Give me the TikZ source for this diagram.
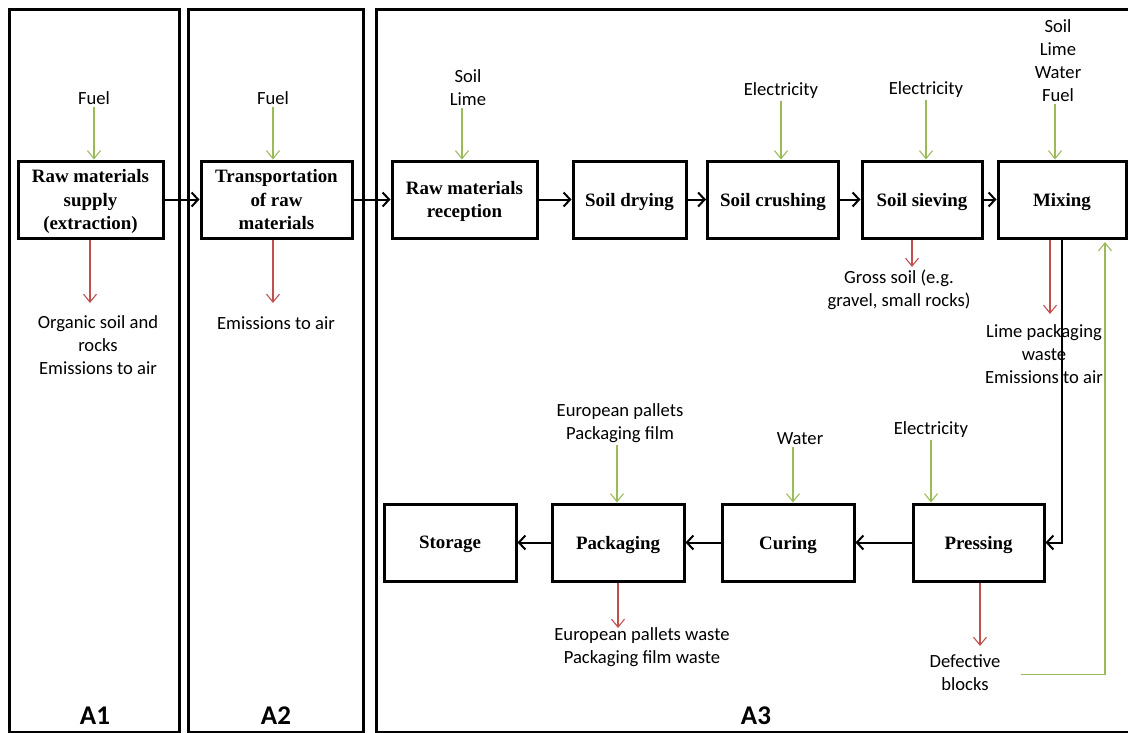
\documentclass[tikz,border=0pt]{standalone}
\usepackage{fontspec}
\setmainfont{Liberation Serif}
\newfontfamily\calib{Carlito}
\usetikzlibrary{arrows.meta}
\definecolor{ingreen}{RGB}{155,187,89}
\definecolor{outred}{RGB}{192,80,77}
\tikzset{
  process/.style={draw,line width=3pt,minimum height=77pt,align=center,inner sep=2pt,
    text depth=0pt,font=\fontsize{18.9}{23.3}\selectfont\bfseries},
  label/.style={align=center,inner sep=2pt,font=\calib\fontsize{18.6}{23}\selectfont},
  stage/.style={font=\calib\fontsize{27}{30}\selectfont\bfseries},
  panel/.style={line width=3pt},
  flow/.style={line width=2pt,-{Straight Barb[length=6.5pt,width=14pt,line width=2pt]}},
  inflow/.style={ingreen,line width=1.1pt,-{Straight Barb[length=8pt,width=13pt,line width=1.1pt]}},
  outflow/.style={outred,line width=1.1pt,-{Straight Barb[length=8pt,width=13pt,line width=1.1pt]}}
}
\begin{document}
\begin{tikzpicture}[x=1pt,y=-1pt]
            \clip (0,0) rectangle (1128,732);
            \fill[white] (0,0) rectangle (1128,732);

            % panels
            \draw[panel] (9.5,9) rectangle (179.5,732.5);
            \draw[panel] (188.5,9) rectangle (363.5,732.5);
            \draw[panel] (376.5,9) rectangle (1140,732.5);
            \node[stage] (a1) at (95,716) {A1};
            \node[stage] (a2) at (276,716) {A2};
            \node[stage] (a3) at (756,716) {A3};

            % first row
            \node[process,minimum width=145pt] (supply) at (90.5,199.5) {Raw materials\\supply\\(extraction)};
            \node[process,minimum width=151pt] (transp) at (276.5,199.5) {Transportation\\of raw\\materials};
            \node[process,minimum width=145pt] (recep) at (464.5,199.5) {Raw materials\\reception};
            \node[process,minimum width=113pt] (drying) at (629.5,199.5) {Soil drying};
            \node[process,minimum width=131pt] (crush) at (773,199.5) {Soil crushing};
            \node[process,minimum width=120pt] (sieve) at (922,199.5) {Soil sieving};
            \node[process,minimum width=128pt] (mixing) at (1062,199.5) {Mixing};

            % second row
            \node[process,minimum width=132pt] (store) at (450,542.5) {Storage};
            \node[process,minimum width=132pt] (pack) at (618,542.5) {Packaging};
            \node[process,minimum width=132pt] (curing) at (788,542.5) {Curing};
            \node[process,minimum width=131pt] (press) at (978.5,542.5) {Pressing};

            \draw[flow] (supply) -- (transp);
            \draw[flow] (transp) -- (recep);
            \draw[flow] (recep) -- (drying);
            \draw[flow] (drying) -- (crush);
            \draw[flow] (crush) -- (sieve);
            \draw[flow] (sieve) -- (mixing);
            \draw[flow] (mixing.south) |- (press.east);
            \draw[flow] (press) -- (curing);
            \draw[flow] (curing) -- (pack);
            \draw[flow] (pack) -- (store);

            % inputs
            \node[label] (in1) at (94,98) {Fuel};
            \node[label] (in2) at (273,98) {Fuel};
            \node[label] (in3) at (468,87.5) {Soil\\Lime};
            \node[label] (in4) at (781,91) {Electricity};
            \node[label] (in5) at (926,90) {Electricity};
            \node[label] (in6) at (1058,60.5) {Soil\\Lime\\Water\\Fuel};
            \node[label] (in7) at (620,423.5) {European pallets\\Packaging film};
            \node[label] (in8) at (800,439) {Water};
            \node[label] (in9) at (931,430) {Electricity};
            \draw[inflow] (in1.south) -- (in1.south |- supply.north);
            \draw[inflow] (in2.south) -- (in2.south |- transp.north);
            \draw[inflow] ([xshift=-6pt]in3.south) -- ([xshift=-6pt]in3.south |- recep.north);
            \draw[inflow] (in4.south) -- (in4.south |- crush.north);
            \draw[inflow] (in5.south) -- (in5.south |- sieve.north);
            \draw[inflow] ([xshift=-3pt]in6.south) -- ([xshift=-3pt]in6.south |- mixing.north);
            \draw[inflow] ([xshift=-3pt]in7.south) -- ([xshift=-3pt]in7.south |- pack.north);
            \draw[inflow] ([xshift=-7pt]in8.south) -- ([xshift=-7pt]in8.south |- curing.north);
            \draw[inflow] (in9.south) -- (in9.south |- press.north);

            % outputs
            \node[label] (out1) at (98,345) {Organic soil and\\rocks\\Emissions to air};
            \node[label] (out2) at (276,323) {Emissions to air};
            \node[label] (out3) at (899,290) {Gross soil (e.g.\\gravel, small rocks)};
            \node[label] (out4) at (1044,354) {Lime packaging\\waste\\Emissions to air};
            \node[label] (out5) at (642,647.5) {European pallets waste\\Packaging film waste};
            \node[label] (out6) at (965,673) {Defective\\blocks};
            \coordinate (o1) at (90,303);
            \coordinate (o2) at (273,303);
            \coordinate (o3) at (912,267);
            \coordinate (o4) at (1050,314);
            \coordinate (o5) at (618,628);
            \coordinate (o6) at (980,646);
            \draw[outflow] (supply.south -| o1) -- (o1);
            \draw[outflow] (transp.south -| o2) -- (o2);
            \draw[outflow] (sieve.south -| o3) -- (o3);
            \draw[outflow] (mixing.south -| o4) -- (o4);
            \draw[outflow] (pack.south -| o5) -- (o5);
            \draw[outflow] (press.south -| o6) -- (o6);

            % defective blocks back to mixing
            \coordinate (back) at (1105,242);
            \draw[inflow] ([xshift=18pt,yshift=-1.5pt]out6.east) -| (back);
        \end{tikzpicture}
\end{document}
